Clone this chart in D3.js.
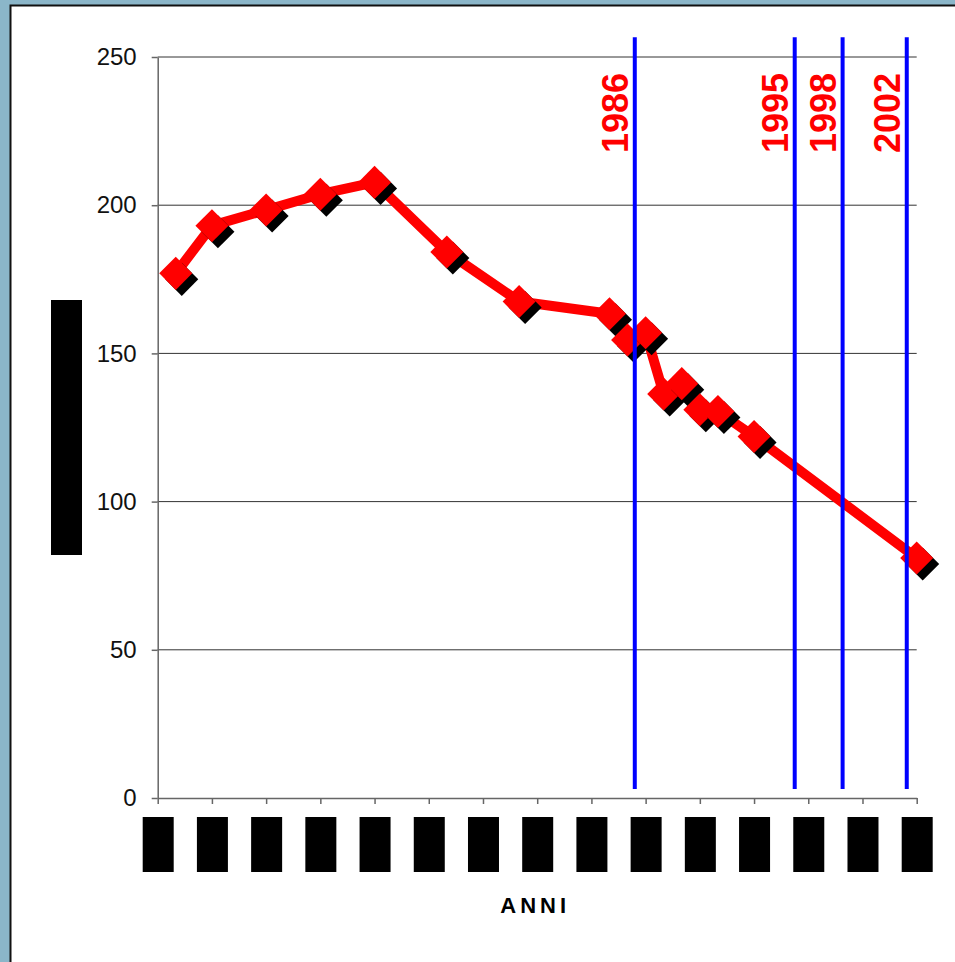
<!DOCTYPE html>
<html>
<head>
<meta charset="utf-8">
<script src="https://cdn.jsdelivr.net/npm/d3@7"></script>
<style>
  body { margin: 0; background: #8bb6c9; }
  svg { display: block; font-family: "Liberation Sans", Arial, sans-serif; }
</style>
</head>
<body>
<div id="chart"></div>
<script>
// series
var years  = [1961, 1963, 1966, 1969, 1972, 1976, 1980, 1985, 1986, 1987, 1988, 1989, 1990, 1991, 1993, 2002];
var values = [177, 193.1, 198.4, 203.7, 207.7, 184.2, 167.5, 163.4, 154.5, 157, 136.3, 139.8, 131, 130.4, 122, 81];

// x ticks every three years, y ticks every 50
var tickYears  = d3.range(1960, 2003, 3);
var tickValues = [0, 50, 100, 150, 200, 250];

// vertical reference lines (drawn by hand in the original, so slightly off the year)
var eventLabels = ['1986', '1995', '1998', '2002'];
var eventPos    = [1986.4, 1995.25, 1997.9, 2001.45];

(function () {

    var W = 955, H = 962;
    var plotLeft = 157.7, plotRight = 916.7, plotTop = 57, plotBottom = 798;

    var svg = d3.select('#chart').append('svg')
        .attr('width', W)
        .attr('height', H);

    // white panel with dark edge
    svg.append('rect')
        .attr('x', 10.5).attr('y', 5.5)
        .attr('width', W + 20).attr('height', H + 20)
        .attr('fill', '#fff')
        .attr('stroke', '#111')
        .attr('stroke-width', 2);

    var x = d3.scaleLinear().domain([1960, 2002]).range([plotLeft, plotRight]);
    var y = d3.scaleLinear().domain([0, 250]).range([plotBottom, plotTop]);

    // gridlines
    svg.append('g').selectAll('line')
        .data(tickValues.filter(function (v) { return v > 0; }))
        .enter().append('line')
        .attr('x1', plotLeft).attr('x2', plotRight)
        .attr('y1', function (d) { return y(d); })
        .attr('y2', function (d) { return y(d); })
        .attr('stroke', '#333')
        .attr('stroke-width', 1);

    // y axis
    var yAxis = svg.append('g')
        .attr('transform', 'translate(' + plotLeft + ',0)')
        .call(d3.axisLeft(y).tickValues(tickValues).tickSize(6).tickSizeOuter(0).tickPadding(15).tickFormat(d3.format('d')));
    yAxis.selectAll('text')
        .attr('font-size', 24)
        .attr('fill', '#111')
        .attr('font-family', '"Liberation Sans", Arial, sans-serif');
    yAxis.selectAll('line, path').attr('stroke', '#666').attr('stroke-width', 1.5);

    // x axis
    var xAxis = svg.append('g')
        .attr('transform', 'translate(0,' + plotBottom + ')')
        .call(d3.axisBottom(x).tickValues(tickYears).tickSize(6).tickSizeOuter(0).tickFormat(d3.format('d')));
    xAxis.selectAll('line, path').attr('stroke', '#666').attr('stroke-width', 1.5);
    xAxis.selectAll('text')
        .attr('font-size', 22)
        .attr('fill', '#000')
        .attr('font-family', '"Liberation Sans", Arial, sans-serif')
        .attr('text-anchor', 'end')
        .attr('dy', 0)
        .attr('x', 0).attr('y', 0)
        .attr('transform', 'translate(8,21) rotate(-90)');

    // tick labels are blacked out in the reference: cover each with a box
    xAxis.selectAll('.tick').insert('rect', 'text')
        .attr('x', -15.5).attr('y', 19)
        .attr('width', 31).attr('height', 55)
        .attr('fill', '#000');

    // y axis title box (blacked out)
    svg.append('rect')
        .attr('x', 51).attr('y', (plotTop + plotBottom) / 2 - 127.5)
        .attr('width', 31).attr('height', 255)
        .attr('fill', '#000');

    // x axis title
    svg.append('text')
        .attr('x', (plotLeft + plotRight) / 2 - 2)
        .attr('y', 913)
        .attr('text-anchor', 'middle')
        .attr('font-size', 22)
        .attr('font-weight', 'bold')
        .attr('letter-spacing', 4)
        .attr('fill', '#000')
        .text('ANNI');

    // series line
    var pts = years.map(function (yr, i) { return [yr, values[i]]; });
    svg.append('path')
        .datum(pts)
        .attr('fill', 'none')
        .attr('stroke', '#ff0000')
        .attr('stroke-width', 10)
        .attr('stroke-linejoin', 'round')
        .attr('d', d3.line()
            .x(function (d) { return x(d[0]); })
            .y(function (d) { return y(d[1]); }));

    // diamond markers with shadow
    var diamond = d3.symbol().type(d3.symbolSquare).size(545);
    var mk = svg.append('g').selectAll('g')
        .data(pts)
        .enter().append('g')
        .attr('transform', function (d) { return 'translate(' + x(d[0]) + ',' + y(d[1]) + ')'; });
    mk.append('path')
        .attr('d', diamond)
        .attr('transform', 'translate(6,6) rotate(45)')
        .attr('fill', '#000');
    mk.append('path')
        .attr('d', diamond)
        .attr('transform', 'rotate(45)')
        .attr('fill', '#ff0000');

    // event lines and labels
    var ev = svg.append('g').selectAll('g')
        .data(eventPos)
        .enter().append('g');
    ev.append('line')
        .attr('x1', function (d) { return x(d); })
        .attr('x2', function (d) { return x(d); })
        .attr('y1', y(256.7))
        .attr('y2', y(3))
        .attr('stroke', '#0000ff')
        .attr('stroke-width', 4);
    ev.append('text')
        .attr('transform', function (d) { return 'translate(' + (x(d) - 7) + ',153) rotate(-90)'; })
        .attr('text-anchor', 'start')
        .attr('font-size', 36)
        .attr('font-weight', 'bold')
        .attr('fill', '#ff0000')
        .text(function (d, i) { return eventLabels[i]; });

})();
</script>
</body>
</html>
